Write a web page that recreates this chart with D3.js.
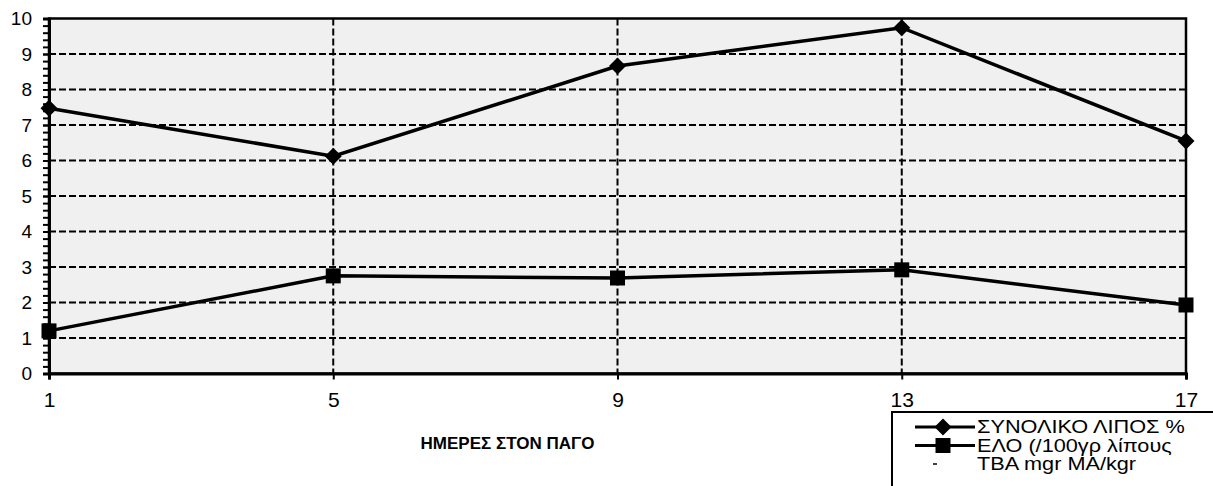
<!DOCTYPE html>
<html>
<head>
<meta charset="utf-8">
<script src="https://cdn.jsdelivr.net/npm/d3@7"></script>
<style>
  body { margin: 0; background: #fff; }
  svg { display: block; font-family: "Liberation Sans", Arial, sans-serif; }
</style>
</head>
<body>
<div id="chart"></div>
<script>
  var days = [1, 5, 9, 13, 17];
  var totalFat = [7.47, 6.12, 8.66, 9.74, 6.55];
  var elo = [1.2, 2.75, 2.69, 2.92, 1.93];
  var yTicks = [0, 1, 2, 3, 4, 5, 6, 7, 8, 9, 10];
  var seriesNames = ['ΣΥΝΟΛΙΚΟ ΛΙΠΟΣ %', 'ΕΛΟ (/100γρ λίπους', 'TBA mgr MA/kgr'];
  var xTitle = 'ΗΜΕΡΕΣ ΣΤΟΝ ΠΑΓΟ';

  var width = 1213,
    height = 486;
  var margin = {top: 18.5, right: 27, bottom: 112.5, left: 49};

  var svg = d3.select('#chart')
    .append('svg')
    .attr('width', width)
    .attr('height', height);
  svg.append('rect')
    .attr('width', width)
    .attr('height', height)
    .attr('fill', '#fff');

  var g = svg.append('g')
    .attr('transform', 'translate(' + margin.left + ',' + margin.top + ')');
  var w = width - margin.left - margin.right,
    h = height - margin.top - margin.bottom;

  var xScale = d3.scalePoint()
    .domain(days)
    .range([0, w]);
  var yScale = d3.scaleLinear()
    .domain([0, 10])
    .range([h, 0]);

  // plot area, light grey like the scanned stipple
  g.append('rect')
    .attr('width', w)
    .attr('height', h)
    .attr('fill', '#f0f0f0');

  // dashed grid
  g.selectAll('.hgrid')
    .data(yTicks.slice(1, -1))
    .enter()
    .append('line')
    .attr('x1', 0)
    .attr('x2', w)
    .attr('y1', function(d) { return yScale(d); })
    .attr('y2', function(d) { return yScale(d); })
    .attr('stroke', '#000')
    .attr('stroke-width', 2)
    .attr('stroke-dasharray', '7,3');
  g.selectAll('.vgrid')
    .data(days.slice(1, -1))
    .enter()
    .append('line')
    .attr('x1', function(d) { return xScale(d); })
    .attr('x2', function(d) { return xScale(d); })
    .attr('y1', 0)
    .attr('y2', h)
    .attr('stroke', '#000')
    .attr('stroke-width', 2)
    .attr('stroke-dasharray', '7,3');

  // frame
  g.append('rect')
    .attr('width', w)
    .attr('height', h)
    .attr('fill', 'none')
    .attr('stroke', '#000')
    .attr('stroke-width', 2.5);

  // y axis: minor ticks then labelled majors
  g.append('g')
    .call(d3.axisLeft(yScale)
      .tickValues(d3.range(0, 51).map(function(i) { return i / 5; }))
      .tickSize(6)
      .tickFormat(''))
    .call(function(a) {
      a.select('.domain').remove();
      a.selectAll('line').attr('stroke-width', 2);
    });
  var yAxis = g.append('g')
    .call(d3.axisLeft(yScale)
      .tickValues(yTicks)
      .tickSize(6)
      .tickPadding(11));
  yAxis.select('.domain').attr('stroke-width', 3);
  yAxis.selectAll('line').attr('stroke-width', 2);
  yAxis.selectAll('text')
    .attr('font-size', 19)
    .attr('font-family', '"Liberation Sans", Arial, sans-serif')
    .attr('fill', '#000');

  var xAxis = g.append('g')
    .attr('transform', 'translate(0,' + h + ')')
    .call(d3.axisBottom(xScale)
      .tickSize(6)
      .tickPadding(13));
  xAxis.select('.domain').attr('stroke-width', 3);
  xAxis.selectAll('line').attr('stroke-width', 2);
  xAxis.selectAll('text')
    .attr('font-size', 21)
    .attr('font-family', '"Liberation Sans", Arial, sans-serif')
    .attr('fill', '#000');

  g.append('text')
    .attr('x', xScale(9) - 110)
    .attr('y', h + 75)
    .attr('text-anchor', 'middle')
    .attr('font-size', 17)
    .attr('font-weight', 'bold')
    .text(xTitle);

  // series
  var line = d3.line()
    .x(function(d, i) { return xScale(days[i]); })
    .y(function(d) { return yScale(d); });

  g.append('path')
    .datum(totalFat)
    .attr('d', line)
    .attr('fill', 'none')
    .attr('stroke', '#000')
    .attr('stroke-width', 3.5);
  g.append('path')
    .datum(elo)
    .attr('d', line)
    .attr('fill', 'none')
    .attr('stroke', '#000')
    .attr('stroke-width', 3.5);

  var diamond = d3.symbol().type(d3.symbolSquare).size(145);
  var square = d3.symbol().type(d3.symbolSquare).size(225);

  g.selectAll('.fat')
    .data(totalFat)
    .enter()
    .append('path')
    .attr('d', diamond)
    .attr('transform', function(d, i) {
      return 'translate(' + xScale(days[i]) + ',' + yScale(d) + ') rotate(45)';
    })
    .attr('fill', '#000');
  g.selectAll('.elo')
    .data(elo)
    .enter()
    .append('path')
    .attr('d', square)
    .attr('transform', function(d, i) {
      return 'translate(' + xScale(days[i]) + ',' + yScale(d) + ')';
    })
    .attr('fill', '#000');

  // legend, cut off by the page edge like the scan
  var legend = svg.append('g')
    .attr('transform', 'translate(892,412)');
  legend.append('rect')
    .attr('width', 340)
    .attr('height', 100)
    .attr('fill', '#fff')
    .attr('stroke', '#000')
    .attr('stroke-width', 2);
  var items = legend.selectAll('.item')
    .data(seriesNames)
    .enter()
    .append('g')
    .attr('transform', function(d, i) { return 'translate(0,' + (15 + i * 18.5) + ')'; });
  items.filter(function(d, i) { return i < 2; })
    .append('line')
    .attr('x1', 23)
    .attr('x2', 83)
    .attr('stroke', '#000')
    .attr('stroke-width', 3);
  items.filter(function(d, i) { return i === 0; })
    .append('path')
    .attr('d', diamond)
    .attr('transform', 'translate(51,0) rotate(45)');
  items.filter(function(d, i) { return i === 1; })
    .append('path')
    .attr('d', square)
    .attr('transform', 'translate(51,0)');
  items.filter(function(d, i) { return i === 2; })
    .append('line')
    .attr('x1', 41)
    .attr('x2', 45)
    .attr('stroke', '#000')
    .attr('stroke-width', 1.5);
  items.append('text')
    .attr('dy', '0.36em')
    .attr('font-size', 17.5)
    .attr('transform', 'translate(85,0) scale(1.24,1)')
    .text(function(d) { return d; });
</script>
</body>
</html>
